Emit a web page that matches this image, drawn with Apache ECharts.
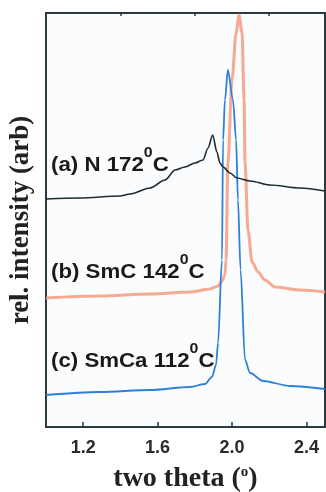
<!DOCTYPE html>
<html>
<head>
<meta charset="utf-8">
<script src="https://cdn.jsdelivr.net/npm/echarts@6/dist/echarts.min.js"></script>
<style>
  html, body { margin: 0; padding: 0; background: #ffffff; }
  #chart { width: 326px; height: 492px; }
</style>
</head>
<body>
<div id="chart"></div>
<script>
// Small-angle X-ray scans, intensities in arbitrary units (curves offset vertically)
const thetaA = [1.000, 1.183, 1.398, 1.452, 1.559, 1.640, 1.694, 1.747, 1.801, 1.844, 1.871, 1.896, 1.919, 1.935, 1.952, 1.989, 2.027, 2.097, 2.204, 2.366, 2.500];
const intensityA = [228, 229, 231, 233, 239, 247, 257, 260, 264, 267, 279, 292, 275, 264, 260, 254, 249, 246, 242, 239, 236];

const thetaB = [1.000, 1.290, 1.559, 1.774, 1.882, 1.925, 1.946, 1.962, 1.968, 1.978, 2.000, 2.022, 2.038, 2.054, 2.065, 2.070, 2.086, 2.108, 2.140, 2.177, 2.231, 2.366, 2.500];
const intensityB = [129, 131, 133, 135, 138, 141, 146, 152, 167, 264, 347, 394, 412, 394, 327, 264, 197, 165, 155, 147, 140, 137, 135];

const thetaC = [1.000, 1.290, 1.559, 1.774, 1.855, 1.892, 1.914, 1.925, 1.946, 1.952, 1.962, 1.978, 2.005, 2.022, 2.032, 2.046, 2.070, 2.097, 2.167, 2.312, 2.500];
const intensityC = [32, 35, 37, 40, 43, 50, 62, 84, 167, 287, 327, 357, 327, 287, 227, 157, 67, 54, 46, 41, 38];

const majorTicks = [1.2, 1.6, 2.0, 2.4];
const minorTicks = [1.4, 1.8, 2.2];

const phaseLabels = [
  { id: 'a', text: '(a) N 172', temp: '0', unit: 'C' },
  { id: 'b', text: '(b) SmC 142', temp: '0', unit: 'C' },
  { id: 'c', text: '(c) SmCa 112', temp: '0', unit: 'C' }
];

function pairs(xs, ys) {
  return xs.map((x, i) => [x, ys[i]]);
}

const chart = echarts.init(document.getElementById('chart'), null, { renderer: 'canvas' });

const frameColor = '#2b3a40';
const sansBold = { fontFamily: 'Liberation Sans, Arial, sans-serif', fontWeight: 'bold' };
const serifBold = { fontFamily: 'Liberation Serif, Times New Roman, serif', fontWeight: 'bold' };

const labelTops = [145, 252, 341];

chart.setOption({
  animation: false,
  backgroundColor: '#ffffff',
  grid: {
    left: 46, right: 1, top: 13, bottom: 65,
    containLabel: false,
    outerBoundsMode: 'none',
    show: true,
    backgroundColor: '#fbfcfd',
    borderColor: frameColor,
    borderWidth: 2
  },
  xAxis: [
    {
      type: 'value', min: 1.0, max: 2.5, interval: 0.2,
      axisLine: { show: false },
      splitLine: { show: false },
      axisTick: { show: true, inside: true, length: 5, customValues: majorTicks,
        lineStyle: { color: frameColor, width: 1.5 } },
      axisLabel: {
        customValues: majorTicks,
        formatter: v => v.toFixed(1),
        color: '#2a2a2a', fontSize: 18, margin: 12, ...sansBold
      },
      name: '{t|two theta (}{s|o}{t|)}',
      nameLocation: 'middle',
      nameGap: 38,
      nameTextStyle: {
        rich: {
          t: { ...serifBold, fontSize: 28, color: '#222', verticalAlign: 'bottom' },
          s: { ...serifBold, fontSize: 15, color: '#222', verticalAlign: 'bottom', padding: [0, 0, 13, 0] }
        }
      }
    },
    {
      type: 'value', min: 1.0, max: 2.5, interval: 0.2,
      axisLine: { show: false },
      splitLine: { show: false },
      axisTick: { show: true, inside: true, length: 3, customValues: minorTicks,
        lineStyle: { color: frameColor, width: 1.5 } },
      axisLabel: { show: false }
    }
  ],
  yAxis: {
    type: 'value', min: 0, max: 414,
    axisLine: { show: false },
    axisTick: { show: false },
    axisLabel: { show: false },
    splitLine: { show: false },
    name: 'rel. intensity (arb)',
    nameLocation: 'middle',
    nameRotate: 90,
    nameGap: 11,
    nameTextStyle: { ...serifBold, fontSize: 27, color: '#222' }
  },
  series: [
    {
      name: 'SmC 142', type: 'line', data: pairs(thetaB, intensityB),
      showSymbol: false, smooth: 0.3, smoothMonotone: 'x',
      lineStyle: { color: '#f5a087', width: 3, opacity: 0.9 }
    },
    {
      name: 'SmCa 112', type: 'line', data: pairs(thetaC, intensityC),
      showSymbol: false, smooth: 0.3, smoothMonotone: 'x',
      lineStyle: { color: '#2f7fd8', width: 1.8 }
    },
    {
      name: 'N 172', type: 'line', data: pairs(thetaA, intensityA),
      showSymbol: false, smooth: 0.3, smoothMonotone: 'x',
      lineStyle: { color: '#1e2d33', width: 1.6 }
    }
  ],
  graphic: phaseLabels.map((lab, i) => ({
    type: 'text',
    x: 51,
    y: labelTops[i],
    scaleX: 1.06,
    z: 10,
    style: {
      text: '{m|' + lab.text + '}{s|' + lab.temp + '}{m|' + lab.unit + '}',
      rich: {
        m: { ...sansBold, fontSize: 21, fill: '#1a1a1a', verticalAlign: 'bottom' },
        s: { ...sansBold, fontSize: 15, fill: '#1a1a1a', verticalAlign: 'bottom', padding: [0, 0, 16, 0] }
      }
    }
  }))
});
</script>
</body>
</html>
